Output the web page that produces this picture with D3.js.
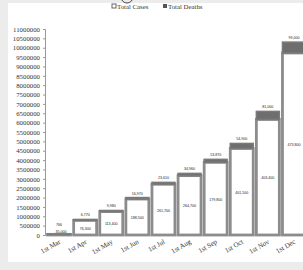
<!DOCTYPE html>
<html><head><meta charset="utf-8">
<script src="https://cdn.jsdelivr.net/npm/d3@7"></script>
<style>body{margin:0;background:#ececec;}svg{display:block;}</style>
</head><body>
<script>
const categories = ["1st Mar","1st Apr","1st May","1st Jun","1st Jul","1st Aug","1st Sep","1st Oct","1st Nov","1st Dec"];
const totalCases = [35000, 780000, 1250000, 1920000, 2710000, 3170000, 3880000, 4620000, 6170000, 9720000];
const totalDeaths = [5000, 50000, 60000, 80000, 100000, 120000, 160000, 270000, 430000, 580000];
const caseLabels = ["35,000","76,300","113,400","188,500","261,700","264,700","179,800","401,500","403,400","473,800"];
const deathLabels = ["766","6,770","9,980","16,970","23,610","34,960","53,870","54,900","81,000","99,000"];
const yTicks = d3.range(0, 11000001, 500000);

const W = 303, H = 270;
const svg = d3.select("body").append("svg").attr("width", W).attr("height", H);
svg.append("rect").attr("x", 8).attr("y", 3).attr("width", W - 8).attr("height", 259).attr("fill", "#fff");
svg.append("circle").attr("cx", 127).attr("cy", -3).attr("r", 6).attr("fill", "none").attr("stroke", "#444").attr("stroke-width", 1);

const x = d3.scaleBand().domain(categories).range([46, 307]).paddingInner(0.12).paddingOuter(0.06);
const y = d3.scaleLinear().domain([0, 11000000]).range([235, 29]);

// y axis
const yAxis = d3.axisLeft(y).tickValues(yTicks).tickFormat(d3.format("d")).tickSize(2).tickPadding(3);
const ga = svg.append("g").attr("transform", "translate(45,0)").call(yAxis);
ga.select(".domain").attr("stroke", "#999");
ga.selectAll(".tick line").attr("stroke", "#999");
ga.selectAll("text").attr("font-family", "Liberation Serif, serif").attr("font-size", 6.8).attr("fill", "#333");

// baseline
svg.append("line").attr("x1", 45).attr("x2", W).attr("y1", y(0)).attr("y2", y(0)).attr("stroke", "#aaa").attr("stroke-width", 1);

const data = categories.map((c, i) => ({c, cases: totalCases[i], deaths: totalDeaths[i], cl: caseLabels[i], dl: deathLabels[i]}));

const g = svg.append("g");
// cases
g.selectAll("rect.cases").data(data).join("rect").attr("class", "cases")
  .attr("x", d => x(d.c)).attr("width", x.bandwidth())
  .attr("y", d => y(d.cases)).attr("height", d => y(0) - y(d.cases))
  .attr("fill", "#fff").attr("stroke", "#8c8c8c").attr("stroke-width", 2.8);
// deaths
g.selectAll("rect.deaths").data(data).join("rect").attr("class", "deaths")
  .attr("x", d => x(d.c)).attr("width", x.bandwidth())
  .attr("y", d => y(d.cases + d.deaths)).attr("height", d => y(d.cases) - y(d.cases + d.deaths))
  .attr("fill", "#6e6e6e").attr("stroke", "#7a7a7a").attr("stroke-width", 1.5);

// labels
g.selectAll("text.dl").data(data).join("text").attr("class", "dl")
  .attr("x", d => x(d.c) + x.bandwidth() / 2).attr("y", d => Math.min(y(d.cases + d.deaths) - 3, 226))
  .attr("text-anchor", "middle").attr("font-family", "Liberation Sans, sans-serif").attr("font-size", 3.6).attr("fill", "#222")
  .text(d => d.dl);
g.selectAll("text.cl").data(data).join("text").attr("class", "cl")
  .attr("x", d => x(d.c) + x.bandwidth() / 2 + (d.cases < 100000 ? 2 : 0))
  .attr("y", d => d.cases < 100000 ? y(0) - 2 : (y(d.cases) + y(0)) / 2 + 2)
  .attr("text-anchor", "middle").attr("font-family", "Liberation Sans, sans-serif").attr("font-size", 3.6).attr("fill", "#222")
  .text(d => d.cl);

// x labels
svg.append("g").selectAll("text").data(categories).join("text")
  .attr("transform", d => `translate(${x(d) + x.bandwidth() / 2 + 2},${y(0) + 8}) rotate(-30)`)
  .attr("text-anchor", "end").attr("font-family", "Liberation Serif, serif").attr("font-size", 7).attr("fill", "#333")
  .text(d => d);

// legend
const lg = svg.append("g").attr("font-family", "Liberation Serif, serif").attr("font-size", 6.8).attr("fill", "#333");
lg.append("rect").attr("x", 112).attr("y", 4).attr("width", 4).attr("height", 4).attr("fill", "#fff").attr("stroke", "#666").attr("stroke-width", 1);
lg.append("text").attr("x", 117).attr("y", 9).text("Total Cases");
lg.append("rect").attr("x", 163).attr("y", 4).attr("width", 4).attr("height", 4).attr("fill", "#555");
lg.append("text").attr("x", 168).attr("y", 9).text("Total Deaths");
</script>
</body></html>
